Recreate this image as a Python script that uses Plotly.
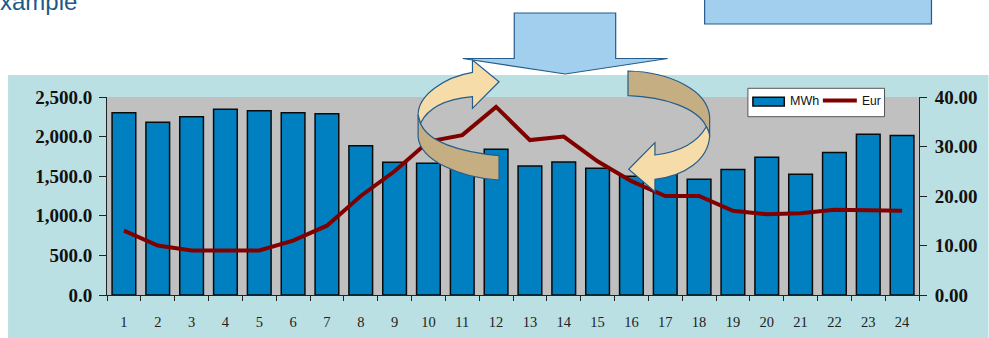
import plotly.graph_objects as go

hours = [str(h) for h in range(1, 25)]
mwh = [2302, 2180, 2251, 2344, 2327, 2302, 2290, 1885, 1675, 1665, 1700, 1840,
       1630, 1680, 1600, 1500, 1550, 1460, 1585, 1740, 1525, 1800, 2030, 2015]
eur = [13, 10, 9, 9, 9, 11, 14, 20, 25, 31, 32.3, 38,
       31.3, 32, 27, 23, 20, 20, 17, 16.3, 16.5, 17.2, 17, 17]
mwh_ticks = [0, 500, 1000, 1500, 2000, 2500]
eur_ticks = [0, 10, 20, 30, 40]

W, H = 989, 338
L, R, T, B = 107, 919.5, 97, 295

SERIF = "Liberation Serif"
BLUE_FILL = "#A3CFEE"
EDGE = "#245C8C"
CREAM = "#F5DCA8"
TAN = "#C4AE82"
BAR = "#0080C0"
LINE = "#800000"


def fx(x):
    return (x - L) / (R - L)


def fy(y):
    return (B - y) / (B - T)


def path(*cmds):
    out = []
    for cmd in cmds:
        letter, pts = cmd[0], cmd[1:]
        out.append(letter + " " + " ".join(f"{fx(x):.5f},{fy(y):.5f}" for x, y in pts))
    return " ".join(out) + " Z"


def outline(d, fill, edge=EDGE, width=1.2):
    return dict(type="path", xref="paper", yref="paper", path=d, fillcolor=fill,
                line=dict(color=edge, width=width), layer="above")


def rect(x0, y0, x1, y1, fill, layer="below", edge=None, width=0):
    return dict(type="rect", xref="paper", yref="paper", layer=layer,
                x0=fx(x0), x1=fx(x1), y0=fy(y0), y1=fy(y1),
                fillcolor=fill, line=dict(color=edge, width=width))


def label(text, x, y, size, color, family="Liberation Sans", anchor="left", yanchor="middle"):
    return dict(text=text, xref="paper", yref="paper", x=fx(x), y=fy(y), xanchor=anchor, yanchor=yanchor,
                showarrow=False, borderpad=0, font=dict(family=family, size=size, color=color))


shapes = [
    rect(8, 75, 989, 338, "#BBE0E3"),
    rect(L, T, R, B, "#C0C0C0"),
    # box at the top right
    outline(path(("M", (705, -4)), ("L", (932, -4)), ("L", (932, 24)), ("L", (705, 24))), BLUE_FILL),
    # large downward arrow
    outline(path(("M", (514.5, 13)), ("L", (616, 13)), ("L", (616, 58.5)), ("L", (668, 58.5)),
                 ("L", (565.5, 74)), ("L", (463, 58.5)), ("L", (514.5, 58.5))), BLUE_FILL),
    # left rotation arrow: rear band, then front band with head
    outline(path(("M", (418.3, 115)), ("L", (418.3, 136.7)),
                 ("C", (420, 160), (460, 178), (499.3, 180)), ("L", (499.3, 155.7)),
                 ("C", (460, 152), (428, 142), (420.7, 123.3))), TAN),
    outline(path(("M", (418.3, 115)), ("C", (418, 95), (445, 77), (472.7, 72.3)),
                 ("L", (472.7, 60)), ("L", (499.3, 81.7)), ("L", (472.7, 108.3)), ("L", (472.7, 96.7)),
                 ("C", (447, 99), (428, 108), (420.7, 123.3))), CREAM),
    # right rotation arrow: rear band, then front band with head
    outline(path(("M", (628.3, 71)), ("C", (670, 72), (708, 90), (710, 116.7)), ("L", (710, 136.7)),
                 ("C", (710, 130), (708, 130), (706.7, 126.7)),
                 ("C", (698, 108), (665, 97), (628.3, 95.7))), TAN),
    outline(path(("M", (706.7, 126.7)), ("C", (708, 129), (710, 133), (710, 136.7)),
                 ("C", (708, 160), (685, 176), (655.3, 179.3)), ("L", (655.3, 191.7)),
                 ("L", (629, 169.3)), ("L", (655.3, 142.7)), ("L", (655.3, 155)),
                 ("C", (680, 152), (698, 142), (706.7, 126.7))), CREAM),
    # series key
    rect(748.3, 88.3, 885, 116.7, "white", layer="above", edge="#555555", width=1),
    rect(753.3, 97.3, 784.7, 106, BAR, layer="above", edge="#0A0A0A", width=1.5),
    dict(type="line", xref="paper", yref="paper", layer="above",
         x0=fx(823.3), x1=fx(857.3), y0=fy(100.5), y1=fy(100.5), line=dict(color=LINE, width=4)),
]

fig = go.Figure()
fig.add_bar(x=hours, y=mwh, name="MWh", marker=dict(color=BAR, line=dict(color="#0A0A0A", width=1.5)))
fig.add_scatter(x=hours, y=eur, name="Eur", yaxis="y2", mode="lines", line=dict(color=LINE, width=4))

tick_font = dict(family=SERIF, size=19, color="#111111", weight="bold")

fig.update_layout(
    width=W, height=H, autosize=False,
    margin=dict(l=L, r=W - R, t=T, b=H - B, pad=0, autoexpand=False),
    paper_bgcolor="white", plot_bgcolor="rgba(0,0,0,0)",
    bargap=0.3, shapes=shapes, showlegend=False,
    xaxis=dict(type="category", tickson="boundaries", ticks="outside", ticklen=5, tickcolor="#222222",
               showline=True, linecolor="#222222", linewidth=1, showgrid=False, ticklabelstandoff=14,
               automargin=False, tickfont=dict(family=SERIF, size=14.5, color="#222222")),
    yaxis=dict(range=[0, 2500], tickvals=mwh_ticks, tickformat=",.1f", ticks="outside", ticklen=7,
               tickcolor="#222222", showline=True, linecolor="#222222", linewidth=1, showgrid=False,
               automargin=False, zeroline=False, ticklabelstandoff=3, tickfont=tick_font),
    yaxis2=dict(range=[0, 40], tickvals=eur_ticks, tickformat=".2f", overlaying="y", side="right",
                ticks="outside", ticklen=7, tickcolor="#222222", showline=True, linecolor="#222222",
                automargin=False, linewidth=1, showgrid=False, zeroline=False, ticklabelstandoff=4,
                tickfont=tick_font),
    annotations=[
        label("xample", -1, 15.5, 24, "#1C5A8A", yanchor="bottom"),
        label("MWh", 789.5, 101, 12.5, "#111111"),
        label("Eur", 861, 101, 12, "#111111"),
    ],
)

fig.write_html("out.html")
